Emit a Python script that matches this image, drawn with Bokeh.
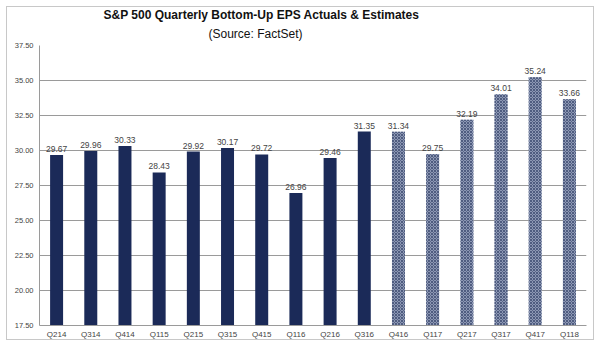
from bokeh.plotting import figure
from bokeh.models import ColumnDataSource, FactorRange, Range1d, LabelSet, NumeralTickFormatter, FixedTicker, Title
from bokeh.embed import file_html
from bokeh.resources import INLINE
from bokeh.core.properties import value

quarters = ["Q214", "Q314", "Q414", "Q115", "Q215", "Q315", "Q415", "Q116", "Q216", "Q316",
            "Q416", "Q117", "Q217", "Q317", "Q417", "Q118"]
eps = [29.67, 29.96, 30.33, 28.43, 29.92, 30.17, 29.72, 26.96, 29.46, 31.35,
       31.34, 29.75, 32.19, 34.01, 35.24, 33.66]
is_estimate = [False] * 10 + [True] * 6
y_ticks = [17.5, 20.0, 22.5, 25.0, 27.5, 30.0, 32.5, 35.0, 37.5]
title_text = "S&P 500 Quarterly Bottom-Up EPS Actuals & Estimates"
subtitle_text = "(Source: FactSet)"

act_q = [q for q, e in zip(quarters, is_estimate) if not e]
act_v = [v for v, e in zip(eps, is_estimate) if not e]
est_q = [q for q, e in zip(quarters, is_estimate) if e]
est_v = [v for v, e in zip(eps, is_estimate) if e]

FONT = "Liberation Sans"

p = figure(width=588, height=334, x_range=FactorRange(*quarters), y_range=Range1d(17.5, 37.5),
           output_backend="svg", toolbar_location=None,
           min_border_left=32, min_border_right=9, min_border_top=0, min_border_bottom=0)
p.margin = (6, 0, 0, 6)
p.styles = {"border": "1px solid #c8c8c8"}
p.border_fill_color = "white"
p.outline_line_color = None

p.title.text = title_text
p.title.align = "left"
p.title.offset = 64
p.title.text_font = FONT
p.title.text_font_size = "12px"
p.title.text_font_style = "bold"
p.title.text_color = "#111111"
p.title.standoff = -3
p.add_layout(Title(text=subtitle_text, align="left", offset=169, text_font=FONT, text_font_size="12px",
                   text_font_style="normal", text_color="#111111", standoff=9), "above")

src_a = ColumnDataSource(dict(q=act_q, v=act_v, lab=["%.2f" % v for v in act_v]))
src_e = ColumnDataSource(dict(q=est_q, v=est_v, lab=["%.2f" % v for v in est_v]))

p.vbar(x="q", top="v", bottom=17.5, width=0.38, source=src_a, fill_color="#1b2a58", line_color=None)
p.vbar(x="q", top="v", bottom=17.5, width=0.38, source=src_e, fill_color="#8d98b4", line_color=None,
       hatch_pattern="x", hatch_color="#4f5c80", hatch_scale=3, hatch_weight=1)

for s in (src_a, src_e):
    p.add_layout(LabelSet(x="q", y="v", text="lab", source=s, text_align="center", text_baseline="bottom",
                          y_offset=3, text_font=value(FONT), text_font_size="8.5px", text_color="#444444"))

p.yaxis.ticker = FixedTicker(ticks=y_ticks)
p.yaxis.formatter = NumeralTickFormatter(format="0.00")
p.ygrid.ticker = FixedTicker(ticks=y_ticks)
p.ygrid.grid_line_color = "#9a9a9a"
p.ygrid.grid_line_width = 1
p.xgrid.grid_line_color = None
p.yaxis.major_tick_line_color = None
p.yaxis.minor_tick_line_color = None
p.xaxis.major_tick_line_color = None
p.yaxis.major_tick_out = 0
p.xaxis.major_tick_out = 0
p.yaxis.axis_line_color = "#9a9a9a"
p.xaxis.axis_line_color = "#9a9a9a"
p.yaxis.major_label_text_font = FONT
p.xaxis.major_label_text_font = FONT
p.yaxis.major_label_text_font_size = "7.5px"
p.xaxis.major_label_text_font_size = "8px"
p.yaxis.major_label_text_color = "#444444"
p.xaxis.major_label_text_color = "#444444"
p.yaxis.major_label_standoff = 6
p.xaxis.major_label_standoff = 4
p.x_range.range_padding = 0
p.x_range.group_padding = 0

open("out.html", "w").write(file_html(p, INLINE))
